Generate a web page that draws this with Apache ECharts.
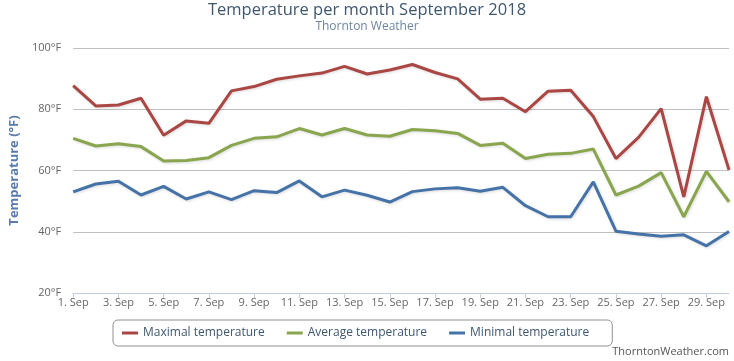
<!DOCTYPE html>
<html>
<head>
<meta charset="utf-8">
<script src="https://cdn.jsdelivr.net/npm/echarts@6/dist/echarts.min.js"></script>
<style>
html,body{margin:0;padding:0;background:#fff;}
#chart{width:734px;height:361px;}
</style>
</head>
<body>
<div id="chart"></div>
<script>
const categories = ["1. Sep","2. Sep","3. Sep","4. Sep","5. Sep","6. Sep","7. Sep","8. Sep","9. Sep","10. Sep","11. Sep","12. Sep","13. Sep","14. Sep","15. Sep","16. Sep","17. Sep","18. Sep","19. Sep","20. Sep","21. Sep","22. Sep","23. Sep","24. Sep","25. Sep","26. Sep","27. Sep","28. Sep","29. Sep","30. Sep"];
const maxTemp = [87.7,81.1,81.4,83.6,71.5,76.2,75.4,86.0,87.4,89.8,90.9,91.8,94.0,91.5,92.8,94.6,92.0,89.9,83.3,83.6,79.2,85.9,86.2,77.6,63.9,70.8,80.2,51.4,84.1,60.2];
const avgTemp = [70.5,68.0,68.7,67.8,63.1,63.3,64.2,68.2,70.5,71.0,73.7,71.6,73.7,71.6,71.2,73.4,73.0,72.1,68.2,68.9,63.9,65.3,65.6,67.0,52.0,54.9,59.3,44.9,59.7,49.8];
const minTemp = [53.0,55.6,56.5,52.0,54.8,50.7,53.0,50.5,53.4,52.8,56.6,51.4,53.6,51.9,49.7,53.1,54.0,54.4,53.2,54.5,48.5,44.9,44.9,56.3,40.2,39.3,38.5,39.0,35.4,40.1];
const yTicks = {min:20, max:100, interval:20};

const FONT = "'Open Sans', 'Liberation Sans', Arial, sans-serif";
function lineSeries(name, data, color){
  return {
    name, type:'line', data, symbol:'none', smooth:false,
    lineStyle:{color, width:3, shadowColor:'rgba(0,0,0,0.15)', shadowBlur:3, shadowOffsetX:1, shadowOffsetY:1},
    itemStyle:{color}
  };
}
const chart = echarts.init(document.getElementById('chart'), null, {renderer:'canvas'});
chart.setOption({
  animation:false,
  backgroundColor:'#ffffff',
  title:[
    {text:'Temperature per month September 2018', left:'center', top:2, padding:0,
     textStyle:{fontFamily:FONT, fontSize:16.5, fontWeight:'normal', color:'#3E576F'}},
    {text:'Thornton Weather', left:'center', top:21, padding:0,
     textStyle:{fontFamily:FONT, fontSize:12, fontWeight:'normal', color:'#6D869F'}},
    {text:'ThorntonWeather.com', right:5, top:346, padding:0,
     textStyle:{fontFamily:FONT, fontSize:11, fontWeight:'normal', color:'#555555'}}
  ],
  grid:{left:69, right:5, top:48, bottom:68, containLabel:false},
  legend:{
    left:113, top:320, padding:[7,23,7,9], itemGap:22,
    borderColor:'#909090', borderWidth:1, borderRadius:5,
    itemWidth:16, itemHeight:3, icon:'rect',
    textStyle:{fontFamily:FONT, fontSize:12, color:'#3E576F'},
    data:['Maximal temperature','Average temperature','Minimal temperature']
  },
  xAxis:{
    type:'category', data:categories, boundaryGap:false,
    axisLine:{lineStyle:{color:'#C0D0E0', width:1}},
    axisTick:{show:true, length:5, interval:1, lineStyle:{color:'#C0D0E0'}},
    axisLabel:{interval:1, margin:4, fontFamily:FONT, fontSize:11, color:'#666666'},
    splitLine:{show:false}
  },
  yAxis:{
    type:'value', min:yTicks.min, max:yTicks.max, interval:yTicks.interval,
    name:'Temperature (°F)', nameLocation:'middle', nameGap:48,
    nameTextStyle:{fontFamily:FONT, fontSize:13, fontWeight:'bold', color:'#5A7BA8'},
    axisLine:{show:false}, axisTick:{show:false},
    axisLabel:{formatter:'{value}°F', margin:12, fontFamily:FONT, fontSize:11, color:'#666666'},
    splitLine:{lineStyle:{color:'#C0C0C0', width:1}}
  },
  series:[
    lineSeries('Maximal temperature', maxTemp, '#AA4643'),
    lineSeries('Average temperature', avgTemp, '#89A54E'),
    lineSeries('Minimal temperature', minTemp, '#4572A7')
  ]
});
</script>
</body>
</html>
